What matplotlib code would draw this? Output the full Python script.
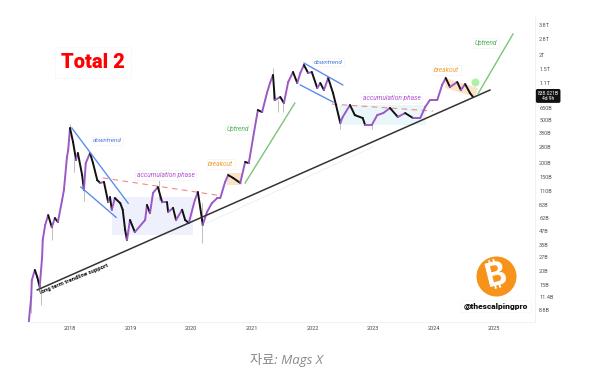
import matplotlib
matplotlib.use('Agg')
import matplotlib.pyplot as plt

plt.rcParams['font.family'] = ['Roboto', 'DejaVu Sans']

# price path, total 2 market cap in billions
years = [2017.32, 2017.36, 2017.37, 2017.42, 2017.46, 2017.50, 2017.54, 2017.55, 2017.59, 2017.64,
         2017.70, 2017.75, 2017.80, 2017.87, 2017.90, 2017.95, 2017.97, 2018.00, 2018.05, 2018.10,
         2018.13, 2018.20, 2018.23, 2018.26, 2018.33, 2018.38, 2018.45, 2018.50, 2018.56, 2018.63,
         2018.66, 2018.69, 2018.74, 2018.83, 2018.87, 2018.91, 2018.94, 2018.99, 2019.07, 2019.24,
         2019.27, 2019.32, 2019.37, 2019.45, 2019.52, 2019.60, 2019.62, 2019.70, 2019.75, 2019.85,
         2019.90, 2019.96, 2020.06, 2020.11, 2020.18, 2020.19, 2020.26, 2020.34, 2020.43, 2020.48,
         2020.56, 2020.61, 2020.69, 2020.81, 2020.89, 2020.95, 2021.02, 2021.10, 2021.17, 2021.25,
         2021.30, 2021.35, 2021.38, 2021.47, 2021.53, 2021.60, 2021.68, 2021.75, 2021.80, 2021.86,
         2021.93, 2021.99, 2022.08, 2022.13, 2022.19, 2022.26, 2022.34, 2022.39, 2022.46, 2022.50,
         2022.62, 2022.70, 2022.83, 2022.87, 2022.98, 2023.07, 2023.17, 2023.28, 2023.41, 2023.53,
         2023.66, 2023.78, 2023.86, 2023.94, 2024.06, 2024.14, 2024.20, 2024.27, 2024.39, 2024.45,
         2024.52, 2024.60, 2024.65]
closes = [6.8, 11.5, 16.5, 20.5, 17.6, 14.3, 27, 38.8, 53.5, 66,
          51, 62, 57, 91, 113, 228, 264, 423, 314, 214,
          248, 155, 113, 200, 248, 200, 139, 131, 134, 87,
          97, 74, 95, 85, 74, 48, 38.8, 59.5, 46, 59.5,
          82, 69, 106, 120, 87, 87, 70.5, 77, 59.5, 74,
          59.5, 55.8, 91, 108, 59.5, 53.5, 70.5, 85, 95, 95,
          134, 155, 146, 131, 205, 200, 341, 620, 594, 892,
          1104, 1310, 768, 819, 720, 1127, 1395, 1104, 1365, 1620,
          1365, 1395, 991, 1104, 950, 1228, 892, 690, 470, 535,
          690, 557, 523, 451, 451, 557, 582, 648, 535, 582,
          523, 523, 661, 768, 768, 1058, 1228, 1013, 1127, 950,
          1080, 892, 819]

wick_years = [2017.36, 2017.52, 2017.70, 2018.00, 2018.07, 2018.23, 2019.47, 2020.18, 2021.35, 2021.43, 2021.51, 2022.46, 2022.98]
wick_low = [8.2, 9.7, 38.8, 423, 165, 90, 91, 36.4, 768, 594, 594, 410, 410]
wick_high = [11.5, 14.3, 53.5, 460, 223, 113, 139, 85, 1518, 768, 720, 523, 451]

tick_years = [2018, 2019, 2020, 2021, 2022, 2023, 2024, 2025]
price_ticks = [3800, 2800, 2000, 1500, 1100, 650, 500, 380, 280, 200, 150, 110, 82, 62, 47, 35, 27, 20, 15, 11.4, 8.8]
price_labels = ['3.8T', '2.8T', '2T', '1.5T', '1.1T', '650B', '500B', '380B', '280B', '200B', '150B',
                '110B', '82B', '62B', '47B', '35B', '27B', '20B', '15B', '11.4B', '8.8B']

fig = plt.figure(figsize=(6.11, 3.89), dpi=100)
ax = fig.add_axes([28 / 611, 1 - 322 / 389, 507 / 611, 305 / 389])
ax.set_yscale('log')
ax.set_xlim(2017.307, 2025.673)
ax.set_ylim(6.76, 4510)

for s in ['top', 'left']:
    ax.spines[s].set_visible(False)
ax.spines['right'].set_color('#f0f0f0')
ax.spines['bottom'].set_color('#f2f2f2')
ax.spines['right'].set_linewidth(0.7)
ax.spines['bottom'].set_linewidth(0.7)

ax.set_xticks(tick_years)
ax.set_xticklabels([str(y) for y in tick_years])
ax.tick_params(axis='x', length=0, labelsize=4, labelcolor='#444444', pad=3)
ax.yaxis.tick_right()
ax.set_yticks(price_ticks)
ax.set_yticklabels(price_labels)
ax.minorticks_off()
ax.tick_params(axis='y', length=0, labelsize=4, labelcolor='#555555', pad=3)

# shaded zones
ax.fill_between([2018.69, 2020.03], 43.2, 97, color='#eef0fc', lw=0, zorder=1)
ax.fill_between([2022.44, 2023.87], 451, 690, color='#e9f6fa', lw=0, zorder=1)
ax.fill_between([2020.59, 2020.84], 125, 162, color='#fbe3c8', lw=0, zorder=1)
ax.fill([2024.19, 2024.73, 2024.69, 2024.19], [1227, 991, 819, 991], color='#fbe3c8', lw=0, zorder=1)

# trendlines
ax.plot([2017.46, 2024.93], [13.4, 950], color='#333333', lw=1.1, zorder=4)
ax.plot([2020.26, 2023.0], [55.8, 282], color='#eeeeee', lw=0.6, zorder=2)
ax.plot([2018.03, 2018.96], [423, 85], color='#5b8def', lw=1, zorder=4)
ax.plot([2018.18, 2018.76], [120, 63], color='#5b8def', lw=1, zorder=4)
ax.plot([2021.86, 2022.50], [1690, 1060], color='#5b8def', lw=1, zorder=4)
ax.plot([2021.80, 2022.34], [1060, 736], color='#5b8def', lw=1, zorder=4)
ax.plot([2020.89, 2021.71], [131, 720], color='#7cc576', lw=1, zorder=4)
ax.plot([2024.73, 2025.31], [873, 3140], color='#7cc576', lw=1, zorder=4)
ax.plot([2018.54, 2020.43], [146, 101], color='#f08a8a', lw=0.8, ls=(0, (5, 4)), zorder=2)
ax.plot([2022.32, 2023.99], [705, 607], color='#f08a8a', lw=0.8, ls=(0, (5, 4)), zorder=2)
ax.scatter([2024.68], [1127], s=33, color='#aef0a8', lw=0, zorder=5)

# wicks then the price path, purple going up and black going down
ax.vlines(wick_years, wick_low, wick_high, color='#bdbdbd', lw=0.7, zorder=3)
for i in range(len(years) - 1):
    c = '#9b59c6' if closes[i + 1] >= closes[i] else '#111111'
    ax.plot(years[i:i + 2], closes[i:i + 2], color=c, lw=1.4, solid_capstyle='round', zorder=3)

box = dict(facecolor='white', edgecolor='#f2f2f2', lw=0.4, pad=1.2)
ax.text(2018.61, 321, 'downtrend', color='#4a7be0', fontsize=4.5, style='italic', ha='center', va='center', bbox=box, zorder=6)
ax.text(2022.26, 1727, 'downtrend', color='#4a7be0', fontsize=4.5, style='italic', ha='center', va='center', bbox=box, zorder=6)
ax.text(2019.58, 155, 'accumulation phase', color='#b04fd0', fontsize=4.8, style='italic', ha='center', va='center', bbox=box, zorder=6)
ax.text(2023.31, 802, 'accumulation phase', color='#b04fd0', fontsize=4.8, style='italic', ha='center', va='center', bbox=box, zorder=6)
ax.text(2020.49, 196, 'breakout', color='#f5a030', fontsize=4.8, style='italic', ha='center', va='center', bbox=box, zorder=6)
ax.text(2024.22, 1456, 'breakout', color='#f5a030', fontsize=4.8, style='italic', ha='center', va='center', bbox=box, zorder=6)
ax.text(2020.77, 414, 'Uptrend', color='#4caf50', fontsize=4.8, style='italic', ha='center', va='center', bbox=box, zorder=6)
ax.text(2024.86, 2590, 'Uptrend', color='#4caf50', fontsize=4.8, style='italic', ha='center', va='center', bbox=box, zorder=6)
ax.text(2018.07, 16.9, 'long term trendline support', color='#111111', fontsize=4.2, fontweight='bold',
        rotation=22, rotation_mode='anchor', ha='center', va='center', zorder=6)

# current price tag
ax.text(2025.89, 838, '838.021B\n4d 9h', color='white', fontsize=3.6, ha='center', va='center', linespacing=1.1,
        bbox=dict(facecolor='#111111', edgecolor='none', boxstyle='round,pad=0.35'), clip_on=False, zorder=7)

# title, logo, handle
fig.text(93 / 611, 1 - 62.5 / 389, 'Total 2', color='#ff0000', fontsize=14.5, fontweight='black', family=['Roboto'],
         ha='center', va='center',
         bbox=dict(facecolor='white', edgecolor='#e6e6e6', lw=0.4, ls=':', pad=4))
ax.scatter([2025.03], [18], s=830, color='#f7931a', lw=0, zorder=6)
ax.text(2025.03, 18, '₿', color='white', fontsize=23, fontweight='bold', family=['Inter', 'Noto Sans', 'Open Sans', 'Lato', 'Roboto'], rotation=14,
        ha='center', va='center', zorder=7)
ax.text(2025.03, 9.5, '@thescalpingpro', color='#111111', fontsize=6, fontweight='black', family=['Roboto'],
        ha='center', va='center', zorder=7,
        bbox=dict(facecolor='white', edgecolor='#e6e6e6', lw=0.4, ls=':', pad=2))

fig.text(286 / 611, 1 - 360 / 389, '자료: Mags X', color='#8a8a8a', fontsize=9.5, style='italic',
         family=['Open Sans', 'Noto Sans CJK KR', 'DejaVu Sans'], ha='center', va='center')

fig.savefig('out.png', dpi=100)
